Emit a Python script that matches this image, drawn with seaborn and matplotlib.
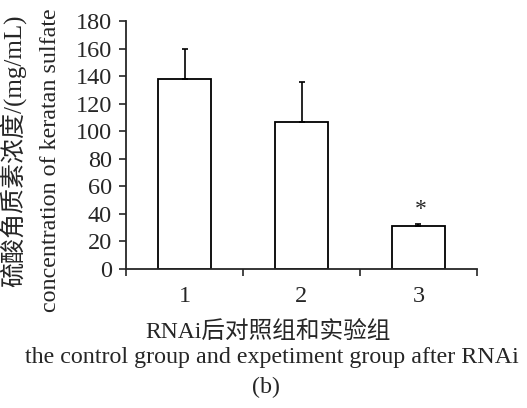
import matplotlib
matplotlib.use("Agg")
import matplotlib.pyplot as plt
import seaborn as sns
import pandas as pd
import numpy as np

groups = ["1", "2", "3"]
means = [138, 107, 31.5]
errs = [22, 28.5, 1]
sig_marks = ["", "", "*"]

sns.set_style("ticks")
plt.rcParams['font.family'] = ['Liberation Serif', 'Noto Sans CJK SC']

df = pd.DataFrame({"group": groups, "value": means})

W, H = 527, 408
fig = plt.figure(figsize=(W / 100, H / 100), dpi=100)
ax = fig.add_axes([126 / W, 1 - 269 / H, 351 / W, 248 / H])

sns.barplot(data=df, x="group", y="value", ax=ax, color="white",
            edgecolor="black", linewidth=1.3, width=0.455, errorbar=None)
xpos = np.arange(len(groups))
ax.errorbar(xpos, means, yerr=[np.zeros(len(errs)), errs], fmt="none",
            ecolor="black", elinewidth=1.2, capsize=2.5, capthick=1.2)
for x, m, e, s in zip(xpos, means, errs, sig_marks):
    if s:
        ax.text(x + 0.02, m + e + 11, s, ha="center", va="center", fontsize=17)

ax.set_xlim(-0.5, 2.5)
ax.set_ylim(0, 180)
ax.set_yticks(range(0, 181, 20))
ax.tick_params(axis="y", labelsize=17.5, length=5, width=1.2, direction="out", pad=5)
ax.set_xticks(xpos)
ax.set_xticks([-0.5, 0.5, 1.5, 2.5], minor=True)
ax.tick_params(axis="x", which="major", length=0, labelsize=17.5, pad=12)
ax.tick_params(axis="x", which="minor", length=5, width=1.2, direction="out")
for sp in ["top", "right"]:
    ax.spines[sp].set_visible(False)
for sp in ["left", "bottom"]:
    ax.spines[sp].set_linewidth(1.3)
ax.set_xlabel("")
ax.set_ylabel("")

fig.text(13 / W, 1 - 151 / H, "硫酸角质素浓度/(mg/mL)", rotation=90,
         ha="center", va="center", fontsize=18)
fig.text(51 / W, 1 - 160 / H, "concentration of keratan sulfate", rotation=90,
         ha="center", va="center", fontsize=17.3)
fig.text(268 / W, 1 - 332 / H, "RNAi后对照组和实验组", ha="center",
         va="center", fontsize=17)
fig.text(272 / W, 1 - 358 / H, "the control group and expetiment group after RNAi",
         ha="center", va="center", fontsize=17.3)
fig.text(266 / W, 1 - 387 / H, "(b)", ha="center", va="center", fontsize=17.3)

fig.savefig("out.png", dpi=100)
